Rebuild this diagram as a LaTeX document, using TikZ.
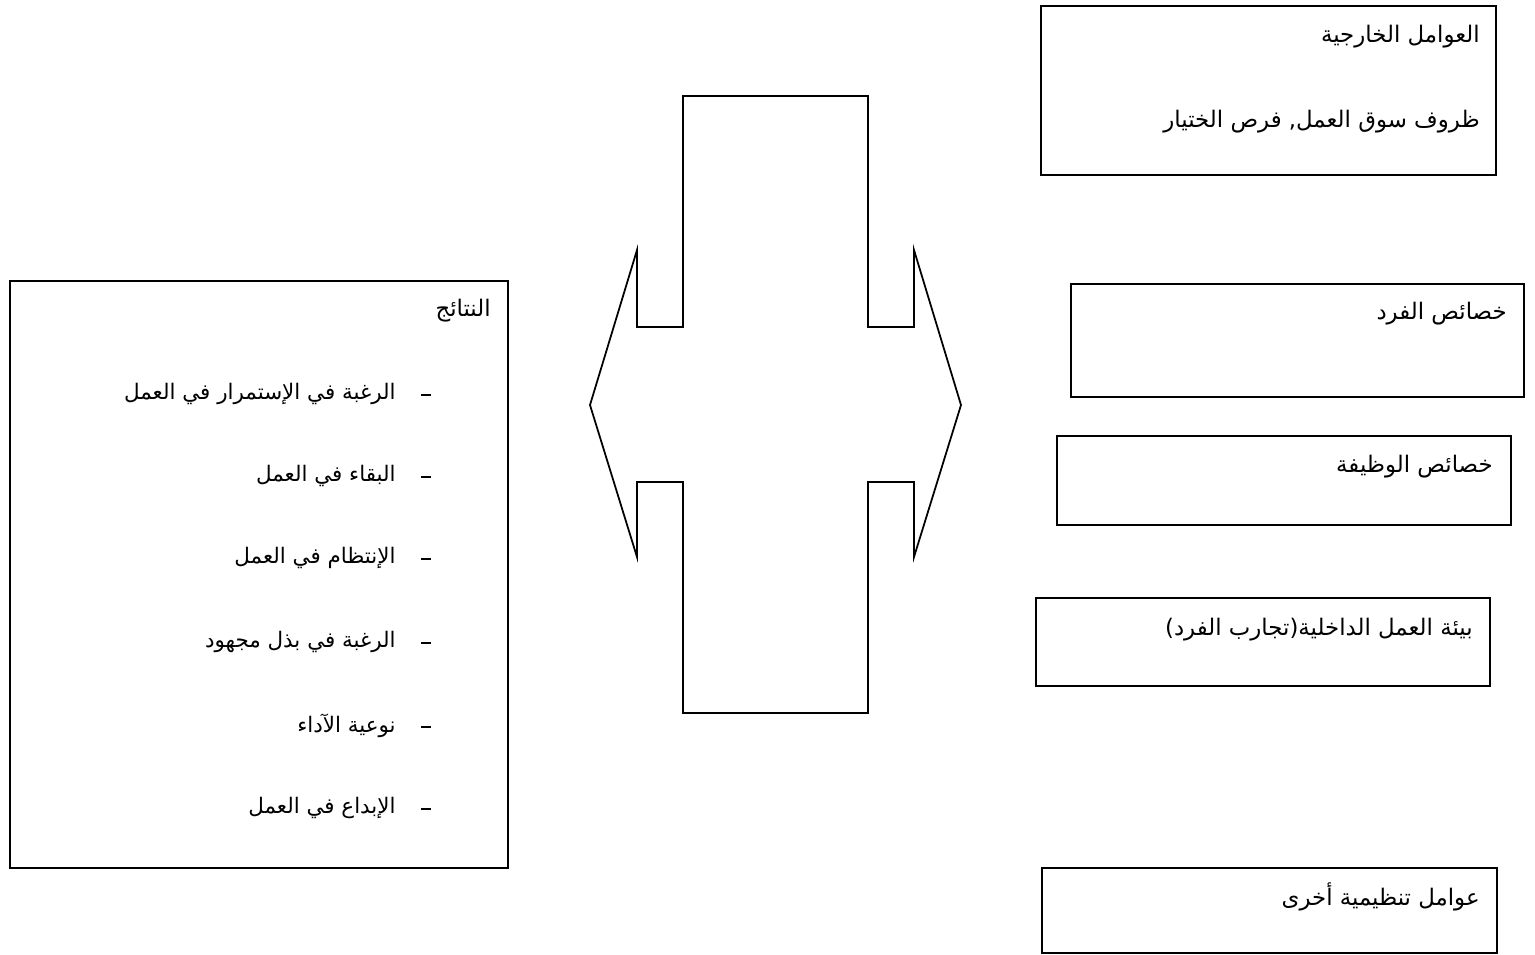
\documentclass[tikz,border=0pt]{standalone}
\usepackage{fontspec}
\newfontfamily\arabicfont[Script=Arabic]{DejaVu Sans}
\TeXXeTstate=1
\newcommand{\ar}[1]{\beginR #1\endR}
\tikzset{
    frame/.style={line width=1pt},
    artext/.style={font=\arabicfont\fontsize{13}{15}\selectfont, inner sep=0pt, anchor=east},
    restext/.style={artext, font=\arabicfont\fontsize{12.2}{14}\selectfont},
    itemdash/.style={inner sep=0pt},
}
\newcommand{\dashmark}{\rule{5.6pt}{1.6pt}}
\begin{document}
\begin{tikzpicture}[x=0.02cm, y=-0.02cm]
    \useasboundingbox (0, 0) rectangle (1535, 954);
    % right column of factor boxes
    \draw[frame] (1041, 6) rectangle (1496, 175);
    \node[artext] (extA) at (1480, 37) {\ar{العوامل الخارجية}};
    \node[artext] (extB) at (1480, 122) {\ar{ظروف سوق العمل, فرص الختيار}};
    \draw[frame] (1071, 284) rectangle (1524, 397);
    \node[artext] (indiv) at (1507, 314) {\ar{خصائص الفرد}};
    \draw[frame] (1057, 436) rectangle (1511, 525);
    \node[artext] (job) at (1493, 467) {\ar{خصائص الوظيفة}};
    \draw[frame] (1036, 598) rectangle (1490, 686);
    \node[artext] (inner) at (1473, 630) {\ar{بيئة العمل الداخلية(تجارب الفرد)}};
    \draw[frame] (1042, 868) rectangle (1497, 953);
    \node[artext] (org) at (1480, 897) {\ar{عوامل تنظيمية أخرى}};
    % double arrow in the middle
    \draw[frame, line join=miter] (683, 96) -- (868, 96) -- (868, 327) -- (914, 327) -- (914, 250)
        -- (961, 405) -- (914, 557) -- (914, 482) -- (868, 482) -- (868, 713)
        -- (683, 713) -- (683, 482) -- (637, 482) -- (637, 557) -- (590, 405)
        -- (637, 250) -- (637, 327) -- (683, 327) -- cycle;
    % results box
    \draw[frame] (10, 281) rectangle (508, 868);
    \node[artext] (res) at (491, 311) {\ar{النتائج}};
    \node[itemdash] (d1) at (426, 395) {\dashmark};
    \node[restext] (r1) at (396, 394) {\ar{الرغبة في الإستمرار في العمل}};
    \node[itemdash] (d2) at (426, 477) {\dashmark};
    \node[restext] (r2) at (396, 476) {\ar{البقاء في العمل}};
    \node[itemdash] (d3) at (426, 559) {\dashmark};
    \node[restext] (r3) at (396, 558) {\ar{الإنتظام في العمل}};
    \node[itemdash] (d4) at (426, 643) {\dashmark};
    \node[restext] (r4) at (396, 642) {\ar{الرغبة في بذل مجهود}};
    \node[itemdash] (d5) at (426, 727) {\dashmark};
    \node[restext] (r5) at (396, 726) {\ar{نوعية الآداء}};
    \node[itemdash] (d6) at (426, 809) {\dashmark};
    \node[restext] (r6) at (396, 808) {\ar{الإبداع في العمل}};
\end{tikzpicture}
\end{document}
